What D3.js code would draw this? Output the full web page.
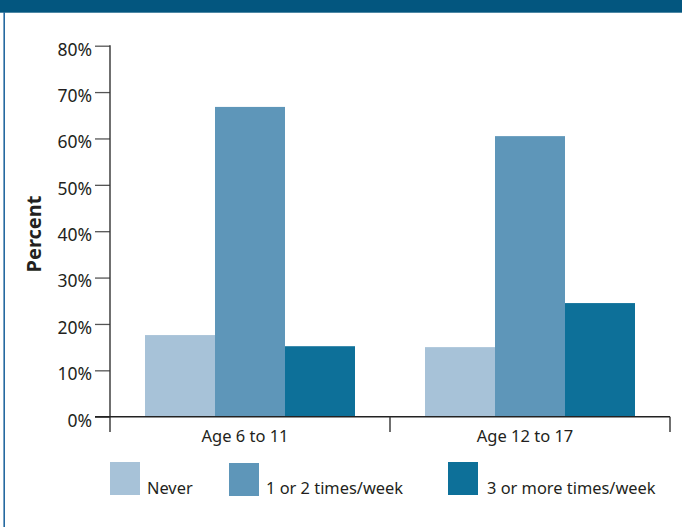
<!DOCTYPE html>
<html>
<head>
<meta charset="utf-8">
<script src="https://cdn.jsdelivr.net/npm/d3@7"></script>
<style>
  body { margin: 0; background: #fff; }
  svg text { font-family: "Noto Sans", sans-serif; font-stretch: condensed; fill: #231f20; }
</style>
</head>
<body>
<svg id="chart" width="682" height="527"></svg>
<script>
// Age groups along the x axis
const groups = ["Age 6 to 11", "Age 12 to 17"];
// Frequency series (legend order)
const series = ["Never", "1 or 2 times/week", "3 or more times/week"];
// Percent of children in each group, per series
const neverValues = [17.6, 15.0];
const onceOrTwiceValues = [66.8, 60.5];
const threePlusValues = [15.2, 24.5];
const seriesColors = ["#a7c2d8", "#5e96b9", "#0d7099"];
// Y axis ticks
const yTicks = [0, 10, 20, 30, 40, 50, 60, 70, 80];

const valuesBySeries = [neverValues, onceOrTwiceValues, threePlusValues];

const svg = d3.select("#chart");
const W = 682, H = 527;

// frame: header band and left rule
svg.append("rect").attr("x", 0).attr("y", 0).attr("width", W).attr("height", 12.7).attr("fill", "#03567f");
svg.append("rect").attr("x", 3.4).attr("y", 12).attr("width", 1.6).attr("height", H - 12).attr("fill", "#2569a0");

const x0 = 110, x1 = 670, yBase = 416.7, yTop = 45.7;

const x = d3.scaleBand().domain(groups).range([x0, x1]).padding(0);
const xInner = d3.scaleBand().domain(series).range([35, x.bandwidth() - 35]).padding(0);
const y = d3.scaleLinear().domain([0, 80]).range([yBase, yTop]);

// bars
const rows = [];
groups.forEach((g, gi) => series.forEach((s, si) => rows.push({ g, s, si, v: valuesBySeries[si][gi] })));
svg.append("g").selectAll("rect").data(rows).join("rect")
  .attr("x", d => x(d.g) + xInner(d.s))
  .attr("y", d => y(d.v))
  .attr("width", xInner.bandwidth())
  .attr("height", d => yBase - y(d.v))
  .attr("fill", d => seriesColors[d.si]);

// y axis
const yAxis = d3.axisLeft(y).tickValues(yTicks).tickFormat(d => d + "%").tickSize(15).tickPadding(3);
const gy = svg.append("g").attr("transform", `translate(${x0},0)`).call(yAxis);
gy.select(".domain").remove();
gy.selectAll(".tick line").attr("stroke", "#555").attr("stroke-width", 1.3);
gy.selectAll(".tick text")
  .attr("font-size", 17.5).attr("dy", null).attr("y", 9.4)
  .style("fill", "#231f20");
gy.append("line").attr("x1", 0).attr("x2", 0).attr("y1", yTop - 0.5).attr("y2", 432)
  .attr("stroke", "#333").attr("stroke-width", 1.4);

// x axis: baseline and group separators
const xAxis = d3.axisBottom(x).tickSize(0).tickPadding(0);
const gx = svg.append("g").attr("transform", `translate(0,${yBase})`).call(xAxis);
gx.select(".domain").remove();
gx.selectAll(".tick text")
  .attr("font-size", 16.5).attr("dy", null).attr("y", 25).attr("dx", -5)
  .style("fill", "#231f20");
svg.append("line").attr("x1", 95).attr("x2", x1).attr("y1", yBase).attr("y2", yBase)
  .attr("stroke", "#222").attr("stroke-width", 1.4);
[x(groups[1]), x1].forEach(px => {
  svg.append("line").attr("x1", px).attr("x2", px).attr("y1", yBase).attr("y2", 432)
    .attr("stroke", "#333").attr("stroke-width", 1.4);
});

// y axis title
svg.append("text")
  .attr("transform", "translate(41,234) rotate(-90)")
  .attr("text-anchor", "middle")
  .attr("font-size", 20).attr("font-weight", "bold")
  .text("Percent");

// legend
const legendSwatchX = [110, 229, 448];
const legendTextX = [147, 266, 487];
const lg = svg.append("g");
series.forEach((s, i) => {
  lg.append("rect").attr("x", legendSwatchX[i]).attr("y", 462 + (i === 1 ? 1 : 0))
    .attr("width", 30).attr("height", 33).attr("fill", seriesColors[i]);
  lg.append("text").attr("x", legendTextX[i]).attr("y", 494).attr("font-size", 16.4).text(s);
});
</script>
</body>
</html>
